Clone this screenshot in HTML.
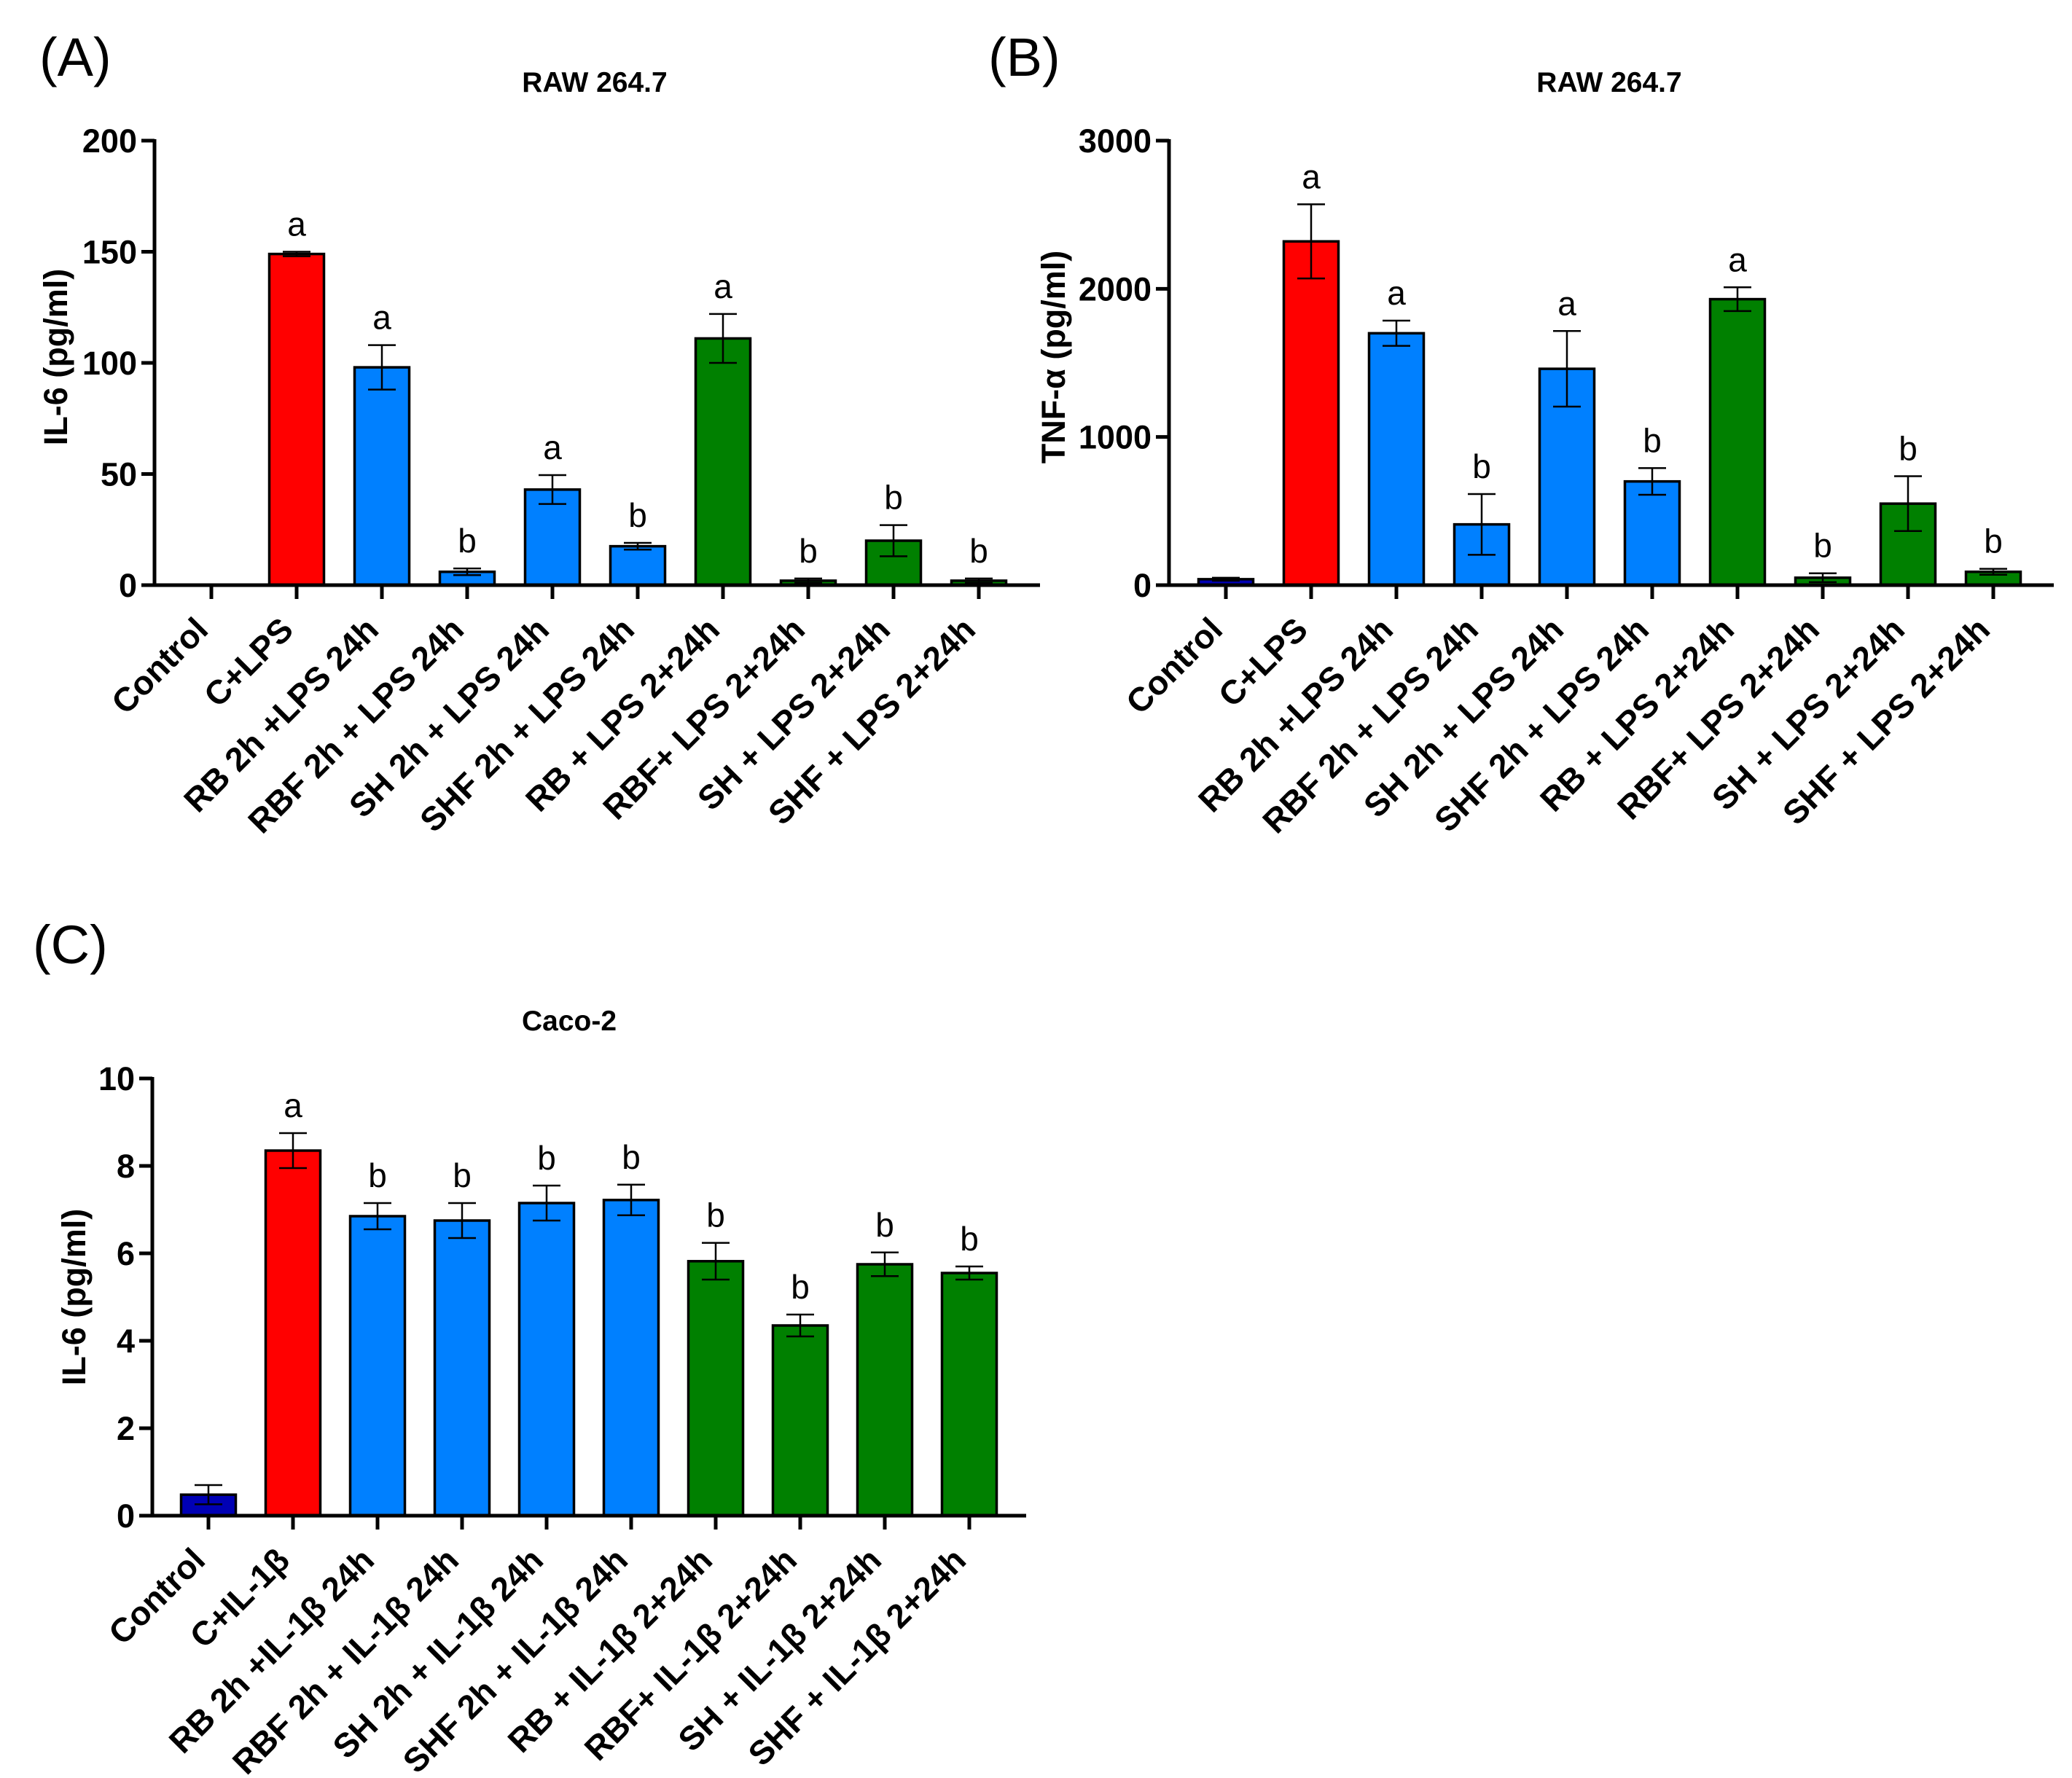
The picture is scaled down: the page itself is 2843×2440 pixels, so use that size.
<!DOCTYPE html>
<html><head><meta charset="utf-8">
<style>
html,body{margin:0;padding:0;background:#fff;}
svg{display:block;}
text{font-family:"Liberation Sans",Arial,sans-serif;}
</style></head>
<body>
<svg id="fig" width="2843" height="2440" viewBox="0 0 2843 2440" xmlns="http://www.w3.org/2000/svg">
<rect width="2843" height="2440" fill="#fff"/>
<text x="54" y="104" font-size="74">(A)</text>
<text x="1356" y="104" font-size="74">(B)</text>
<text x="45" y="1322" font-size="74">(C)</text>
<text x="816" y="126" font-size="39" font-weight="bold" text-anchor="middle">RAW 264.7</text>
<text x="2208" y="126" font-size="39" font-weight="bold" text-anchor="middle">RAW 264.7</text>
<text x="781" y="1414" font-size="39" font-weight="bold" text-anchor="middle">Caco-2</text>
<text transform="translate(92,490) rotate(-90)" font-size="45" font-weight="bold" text-anchor="middle">IL-6 (pg/ml)</text>
<text transform="translate(1461,490) rotate(-90)" font-size="45" font-weight="bold" text-anchor="middle">TNF-α (pg/ml)</text>
<text transform="translate(117,1780) rotate(-90)" font-size="45" font-weight="bold" text-anchor="middle">IL-6 (pg/ml)</text>
<g id="charts"></g>
</svg>
<script>
const colors = ["#0000b4","#ff0000","#0080ff","#0080ff","#0080ff","#0080ff","#008000","#008000","#008000","#008000"];

const catsA = ["Control","C+LPS","RB 2h +LPS 24h","RBF 2h + LPS 24h","SH 2h + LPS 24h","SHF 2h + LPS 24h","RB + LPS 2+24h","RBF+ LPS 2+24h","SH + LPS 2+24h","SHF + LPS 2+24h"];
const valsA = [0,149,98,6,43,17.5,111,2,20,2];
const errA = [0,1,10,1.5,6.5,1.5,11,1,7,1];
const lettersA = ["","a","a","b","a","b","a","b","b","b"];
const ticksA = [0,50,100,150,200];

const catsB = ["Control","C+LPS","RB 2h +LPS 24h","RBF 2h + LPS 24h","SH 2h + LPS 24h","SHF 2h + LPS 24h","RB + LPS 2+24h","RBF+ LPS 2+24h","SH + LPS 2+24h","SHF + LPS 2+24h"];
const valsB = [40,2320,1700,410,1460,700,1930,50,550,90];
const errB = [10,250,85,205,255,90,80,30,185,20];
const lettersB = ["","a","a","b","a","b","a","b","b","b"];
const ticksB = [0,1000,2000,3000];

const catsC = ["Control","C+IL-1β","RB 2h +IL-1β 24h","RBF 2h + IL-1β 24h","SH 2h + IL-1β 24h","SHF 2h + IL-1β 24h","RB + IL-1β 2+24h","RBF+ IL-1β 2+24h","SH + IL-1β 2+24h","SHF + IL-1β 2+24h"];
const valsC = [0.48,8.35,6.85,6.75,7.15,7.22,5.82,4.35,5.75,5.55];
const errC = [0.22,0.4,0.3,0.4,0.4,0.35,0.42,0.25,0.27,0.15];
const lettersC = ["","a","b","b","b","b","b","b","b","b"];
const ticksC = [0,2,4,6,8,10];

const NS = "http://www.w3.org/2000/svg";
const root = document.getElementById("charts");
function mk(tag, attrs, parent){
  const e = document.createElementNS(NS, tag);
  for (const k in attrs) e.setAttribute(k, attrs[k]);
  (parent||root).appendChild(e);
  return e;
}

function drawChart(id, cats, vals, errs, letters, ticks, cfg){
  const g = mk("g", {});
  
  
  const yMax = ticks[ticks.length-1];
  const y = v => cfg.y0 - (v / yMax) * (cfg.y0 - cfg.yTop);
  const x = i => cfg.x0 + i * cfg.step;
  cats.forEach((c, i) => {
    const top = y(vals[i]);
    const h = cfg.y0 - top;
    if (h > 0.5) {
      const r = mk("rect", {x: x(i) - cfg.bw/2, y: top, width: cfg.bw, height: h, fill: colors[i], stroke: "#000", "stroke-width": 3.5}, g);
      
      
    }
    if (errs[i] > 0) {
      const eg = mk("g", {stroke: "#000", "stroke-width": 2.5}, g);
      
      
      const t = y(vals[i] + errs[i]), b = y(vals[i] - errs[i]);
      mk("line", {x1: x(i), x2: x(i), y1: t, y2: b}, eg);
      mk("line", {x1: x(i)-19, x2: x(i)+19, y1: t, y2: t}, eg);
      mk("line", {x1: x(i)-19, x2: x(i)+19, y1: b, y2: b}, eg);
    }
    if (letters[i]) {
      const lt = mk("text", {x: x(i), y: y(vals[i] + errs[i]) - 22, "font-size": 46, "text-anchor": "middle"}, g);
      lt.textContent = letters[i];
      
      
    }
    mk("line", {x1: x(i), x2: x(i), y1: cfg.y0, y2: cfg.y0 + 19, stroke: "#000", "stroke-width": 5}, g);
    const lb = mk("text", {transform: "translate(" + (x(i) - 2) + "," + (cfg.y0 + 64) + ") rotate(-45)", "font-size": 46, "font-weight": "bold", "text-anchor": "end"}, g);
    lb.textContent = c;
    
    
  });
  const ya = mk("line", {x1: cfg.ax, x2: cfg.ax, y1: cfg.yTop - 2, y2: cfg.y0 + 2, stroke: "#000", "stroke-width": 5}, g);
  
  
  const xa = mk("line", {x1: cfg.ax - 18, x2: cfg.xEnd, y1: cfg.y0, y2: cfg.y0, stroke: "#000", "stroke-width": 5}, g);
  
  
  ticks.forEach(t => {
    mk("line", {x1: cfg.ax - 18, x2: cfg.ax, y1: y(t), y2: y(t), stroke: "#000", "stroke-width": 5}, g);
    const tl = mk("text", {x: cfg.ax - 24, y: y(t) + 16, "font-size": 45, "font-weight": "bold", "text-anchor": "end"}, g);
    tl.textContent = String(t);
    
    
  });
}

drawChart("panel-a", catsA, valsA, errA, lettersA, ticksA, {ax: 212, x0: 290, step: 117, bw: 75, y0: 803, yTop: 193, xEnd: 1427});
drawChart("panel-b", catsB, valsB, errB, lettersB, ticksB, {ax: 1604, x0: 1682, step: 117, bw: 75, y0: 803, yTop: 193, xEnd: 2818});
drawChart("panel-c", catsC, valsC, errC, lettersC, ticksC, {ax: 209, x0: 286, step: 116, bw: 75, y0: 2080, yTop: 1480, xEnd: 1408});
</script>
</body></html>
